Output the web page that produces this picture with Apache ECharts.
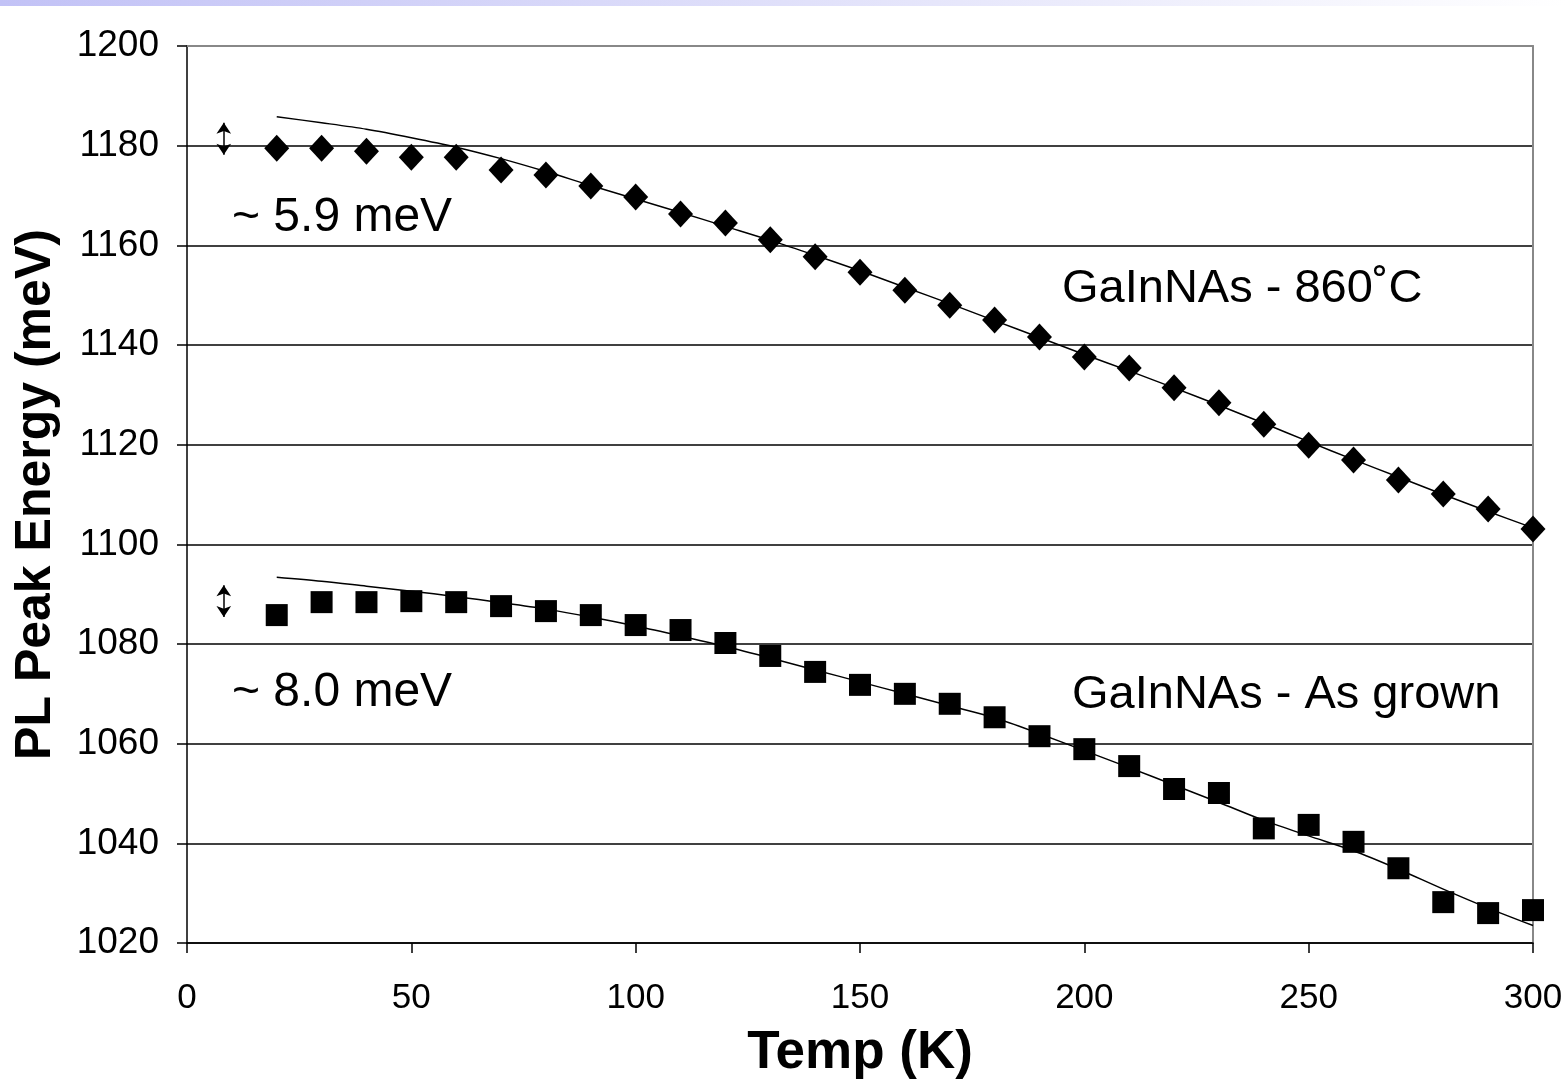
<!DOCTYPE html>
<html><head><meta charset="utf-8">
<script src="https://cdn.jsdelivr.net/npm/echarts@6/dist/echarts.min.js"></script>
<style>html,body{margin:0;padding:0;background:#fff}#c{width:1566px;height:1079px}</style>
</head><body><div id="c"></div>
<script>
const temps = [20,30,40,50,60,70,80,90,100,110,120,130,140,150,160,170,180,190,200,210,220,230,240,250,260,270,280,290,300];
const annealed = [1179.5,1179.5,1178.9,1177.7,1177.7,1175.1,1174.1,1171.9,1169.7,1166.3,1164.5,1161.1,1157.7,1154.6,1151.0,1148.0,1145.0,1141.6,1137.6,1135.4,1131.4,1128.4,1124.1,1119.9,1116.9,1112.9,1110.1,1107.1,1103.1];
const annealedFit = [1185.8,1184.6,1183.3,1181.6,1179.7,1177.4,1174.8,1172.0,1169.3,1166.6,1163.8,1161.0,1158.0,1154.9,1151.6,1148.3,1144.9,1141.5,1138.1,1134.8,1131.4,1127.9,1124.3,1120.6,1117.0,1113.5,1110.0,1106.6,1103.3];
const asGrown = [1085.8,1088.4,1088.4,1088.6,1088.4,1087.6,1086.6,1085.8,1083.8,1082.8,1080.2,1077.6,1074.4,1071.8,1070.0,1068.0,1065.3,1061.5,1058.9,1055.5,1050.9,1050.1,1043.0,1043.7,1040.3,1035.0,1028.2,1026.0,1026.6];
const asGrownFit = [1093.4,1092.6,1091.6,1090.6,1089.5,1088.3,1087.0,1085.4,1083.6,1081.6,1079.5,1077.2,1074.8,1072.4,1070.0,1067.6,1065.2,1062.0,1058.6,1055.2,1051.7,1048.2,1044.6,1041.5,1038.5,1034.8,1030.8,1027.0,1023.5];
const arrowTop = [[8.2,1184.6],[8.2,1178.2]];
const arrowBottom = [[8.2,1091.8],[8.2,1085.4]];
const labels = ['~ 5.9 meV','~ 8.0 meV','GaInNAs - 860˚C','GaInNAs - As grown'];

const pair = (xs, ys) => xs.map((x,i)=>[x, ys[i]]);
const FONT = '"Liberation Sans", Arial, sans-serif';

const chart = echarts.init(document.getElementById('c'), null, {renderer:'canvas'});
const arrowLine = (pts) => ({
  type:'line', data:[], silent:true,
  markLine:{silent:true, symbol:['arrow','arrow'], symbolSize:[11,11], label:{show:false},
    lineStyle:{color:'#000', width:1.5, type:'solid', opacity:1},
    data:[[{coord:pts[0]},{coord:pts[1]}]]}
});
chart.setOption({
  animation:false,
  backgroundColor:'#fff',
  grid:{left:187, right:33, top:46, bottom:136, containLabel:false, outerBoundsMode:'none'},
  xAxis:[{
    type:'value', min:0, max:300, interval:50,
    axisLine:{show:true, onZero:false, lineStyle:{color:'#000', width:1.5}},
    axisTick:{show:true, length:10, lineStyle:{color:'#000', width:1.5}},
    axisLabel:{fontFamily:FONT, fontSize:35, color:'#000', margin:38},
    splitLine:{show:false},
    name:'Temp (K)', nameLocation:'middle', nameGap:84,
    nameTextStyle:{fontFamily:FONT, fontSize:53, fontWeight:'bold', color:'#000'}
  },{
    type:'value', min:0, max:300, position:'top',
    axisLine:{show:true, onZero:false, lineStyle:{color:'#888', width:2}},
    axisTick:{show:false}, axisLabel:{show:false}, splitLine:{show:false}
  }],
  yAxis:[{
    type:'value', min:1020, max:1200, interval:20,
    axisLine:{show:true, onZero:false, lineStyle:{color:'#000', width:1.5}},
    axisTick:{show:true, length:10, lineStyle:{color:'#000', width:1.5}},
    axisLabel:{fontFamily:FONT, fontSize:37, color:'#000', margin:28, formatter:(v)=>String(v)},
    splitLine:{show:true, showMaxLine:false, lineStyle:{color:'#000', width:1.5}},
    name:'PL Peak Energy (meV)', nameLocation:'middle', nameGap:126,
    nameTextStyle:{fontFamily:FONT, fontSize:50, fontWeight:'bold', color:'#000'}
  },{
    type:'value', min:1020, max:1200, position:'right',
    axisLine:{show:true, onZero:false, lineStyle:{color:'#888', width:2}},
    axisTick:{show:false}, axisLabel:{show:false}, splitLine:{show:false}
  }],
  series:[
    {type:'line', data:pair(temps, annealedFit), symbol:'none', smooth:0.3,
      lineStyle:{color:'#000', width:1.5, opacity:1}, z:2},
    {type:'line', data:pair(temps, asGrownFit), symbol:'none', smooth:0.3,
      lineStyle:{color:'#000', width:1.5, opacity:1}, z:2},
    {type:'scatter', data:pair(temps, annealed), symbol:'diamond', symbolSize:[25,27],
      itemStyle:{color:'#000', opacity:1}, z:3},
    {type:'scatter', data:pair(temps, asGrown), symbol:'rect', symbolSize:22,
      itemStyle:{color:'#000', opacity:1}, z:3},
    arrowLine(arrowTop),
    arrowLine(arrowBottom)
  ],
  graphic:[
    {type:'rect', left:0, top:0, shape:{width:1566, height:6}, silent:true,
      style:{fill:new echarts.graphic.LinearGradient(0,0,1,0,[
        {offset:0,color:'#c2c2f6'},{offset:0.5,color:'#e0e0fa'},{offset:1,color:'#ffffff'}])}},
    {type:'text', left:232, top:194, style:{text:labels[0], fontFamily:FONT, fontSize:48, fill:'#000'}},
    {type:'text', left:232, top:669, style:{text:labels[1], fontFamily:FONT, fontSize:48, fill:'#000'}},
    {type:'text', left:1062, top:266, style:{text:labels[2], fontFamily:FONT, fontSize:47, fill:'#000'}},
    {type:'text', left:1072, top:672, style:{text:labels[3], fontFamily:FONT, fontSize:47, fill:'#000'}}
  ]
});
</script></body></html>
